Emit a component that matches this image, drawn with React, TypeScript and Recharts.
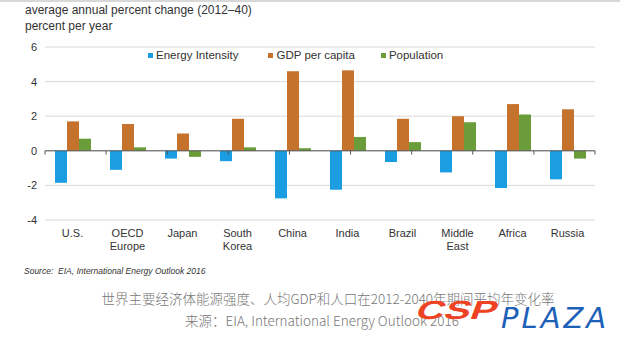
import React from "react";
import {
  BarChart, Bar, XAxis, YAxis, CartesianGrid, ReferenceLine
} from "recharts";

const categories = ["U.S.", "OECD Europe", "Japan", "South Korea", "China", "India", "Brazil", "Middle East", "Africa", "Russia"];
const energyIntensity = [-1.85, -1.1, -0.45, -0.6, -2.75, -2.25, -0.65, -1.25, -2.15, -1.65];
const gdpPerCapita = [1.7, 1.55, 1.0, 1.85, 4.6, 4.65, 1.85, 2.0, 2.7, 2.4];
const population = [0.7, 0.2, -0.35, 0.2, 0.15, 0.8, 0.5, 1.65, 2.1, -0.45];
const yTicks = [-4, -2, 0, 2, 4, 6];

const series = [
  { key: "energy", name: "Energy Intensity", color: "#1b9de2" },
  { key: "gdp", name: "GDP per capita", color: "#c5732c" },
  { key: "pop", name: "Population", color: "#6a9d3a" },
];

const data = categories.map((c, i) => ({
  name: c,
  energy: energyIntensity[i],
  gdp: gdpPerCapita[i],
  pop: population[i],
}));

const boundaries = categories.map((_, i) => i).concat([categories.length]);

const font = "'Liberation Sans', Arial, sans-serif";

function CatTick(props: any) {
  const { x, y, payload } = props;
  const lines = String(payload.value).split(" ");
  return (
    <text x={x} y={y} textAnchor="middle" fill="#333" fontSize={11} fontFamily={font}>
      {lines.map((l, i) => (
        <tspan key={i} x={x} dy={i === 0 ? 9 : 13}>{l}</tspan>
      ))}
    </text>
  );
}

function LegendBox() {
  return (
    <div style={{ position: "absolute", left: 148, top: 49, display: "flex", fontFamily: font, fontSize: 11.5, color: "#333" }}>
      {series.map((s, i) => (
        <div key={s.key} style={{ display: "flex", alignItems: "center", marginRight: i === 0 ? 30 : 26 }}>
          <span style={{ width: 5, height: 5, background: s.color, marginRight: 3, display: "inline-block" }} />
          {s.name}
        </div>
      ))}
    </div>
  );
}

export default function App() {
  return (
    <div style={{ position: "absolute", left: 0, top: 0, width: 620, height: 343, background: "#fff", overflow: "hidden" }}>
      <div style={{ position: "absolute", left: 0, top: 0, width: 620, height: 2, background: "#d8d8d8" }} />
      <div style={{ position: "absolute", left: 25, top: 3, fontFamily: font, fontSize: 12, color: "#333" }}>
        average annual percent change (2012–40)
      </div>
      <div style={{ position: "absolute", left: 25, top: 19, fontFamily: font, fontSize: 12, color: "#333" }}>
        percent per year
      </div>
      <div style={{ position: "absolute", left: 0, top: 0 }}>
        <BarChart width={620} height={260} data={data} margin={{ top: 47, right: 25, left: 15, bottom: 0 }}
          barSize={12} barGap={0}>
          <CartesianGrid horizontal vertical={false} stroke="#d9d9d9" />
          <XAxis dataKey="name" axisLine={false} tickLine={false} interval={0} height={40} tick={<CatTick />} />
          <XAxis xAxisId="num" type="number" domain={[0, categories.length]} hide allowDataOverflow />
          <YAxis type="number" domain={[-4, 6]} ticks={yTicks} width={30} axisLine={false} tickLine={false}
            tick={{ fontSize: 11, fill: "#333", fontFamily: font }} />
          <ReferenceLine y={0} stroke="#555" strokeWidth={1} />
          {boundaries.map((b) => (
            <ReferenceLine key={b} xAxisId="num" stroke="#555" segment={[{ x: b, y: 0 }, { x: b, y: -0.22 }]} />
          ))}
          {series.map((s) => (
            <Bar key={s.key} dataKey={s.key} name={s.name} fill={s.color} isAnimationActive={false} />
          ))}
        </BarChart>
      </div>
      <LegendBox />
      <div style={{ position: "absolute", left: 24, top: 266, fontFamily: font, fontSize: 8.5, fontStyle: "italic", color: "#333" }}>
        Source:&nbsp; EIA, International Energy Outlook 2016
      </div>
      <div style={{ position: "absolute", left: 0, width: 656, top: 288, textAlign: "center", fontFamily: "'Noto Sans CJK SC', sans-serif", fontSize: 13.5, fontWeight: 300, color: "#777" }}>
        世界主要经济体能源强度、人均GDP和人口在2012-2040年期间平均年变化率
      </div>
      <div style={{ position: "absolute", left: 185, top: 310, fontFamily: "'Noto Sans CJK SC', sans-serif", fontSize: 13.5, fontWeight: 300, color: "#777" }}>
        来源：EIA, International Energy Outlook 2016
      </div>
      <div style={{ position: "absolute", left: 423, top: 295, fontFamily: font, fontSize: 26, lineHeight: "30px", fontWeight: 700, color: "#ee4322", transformOrigin: "0 0", transform: "scaleX(1.5) skewX(-14deg)" }}>
        CSP
      </div>
      <div style={{ position: "absolute", left: 501, top: 301, fontFamily: "'DejaVu Sans', sans-serif", fontSize: 29, lineHeight: "34px", fontWeight: 200, fontStyle: "italic", color: "#1d60b8", letterSpacing: 3 }}>
        PLAZA
      </div>
    </div>
  );
}
